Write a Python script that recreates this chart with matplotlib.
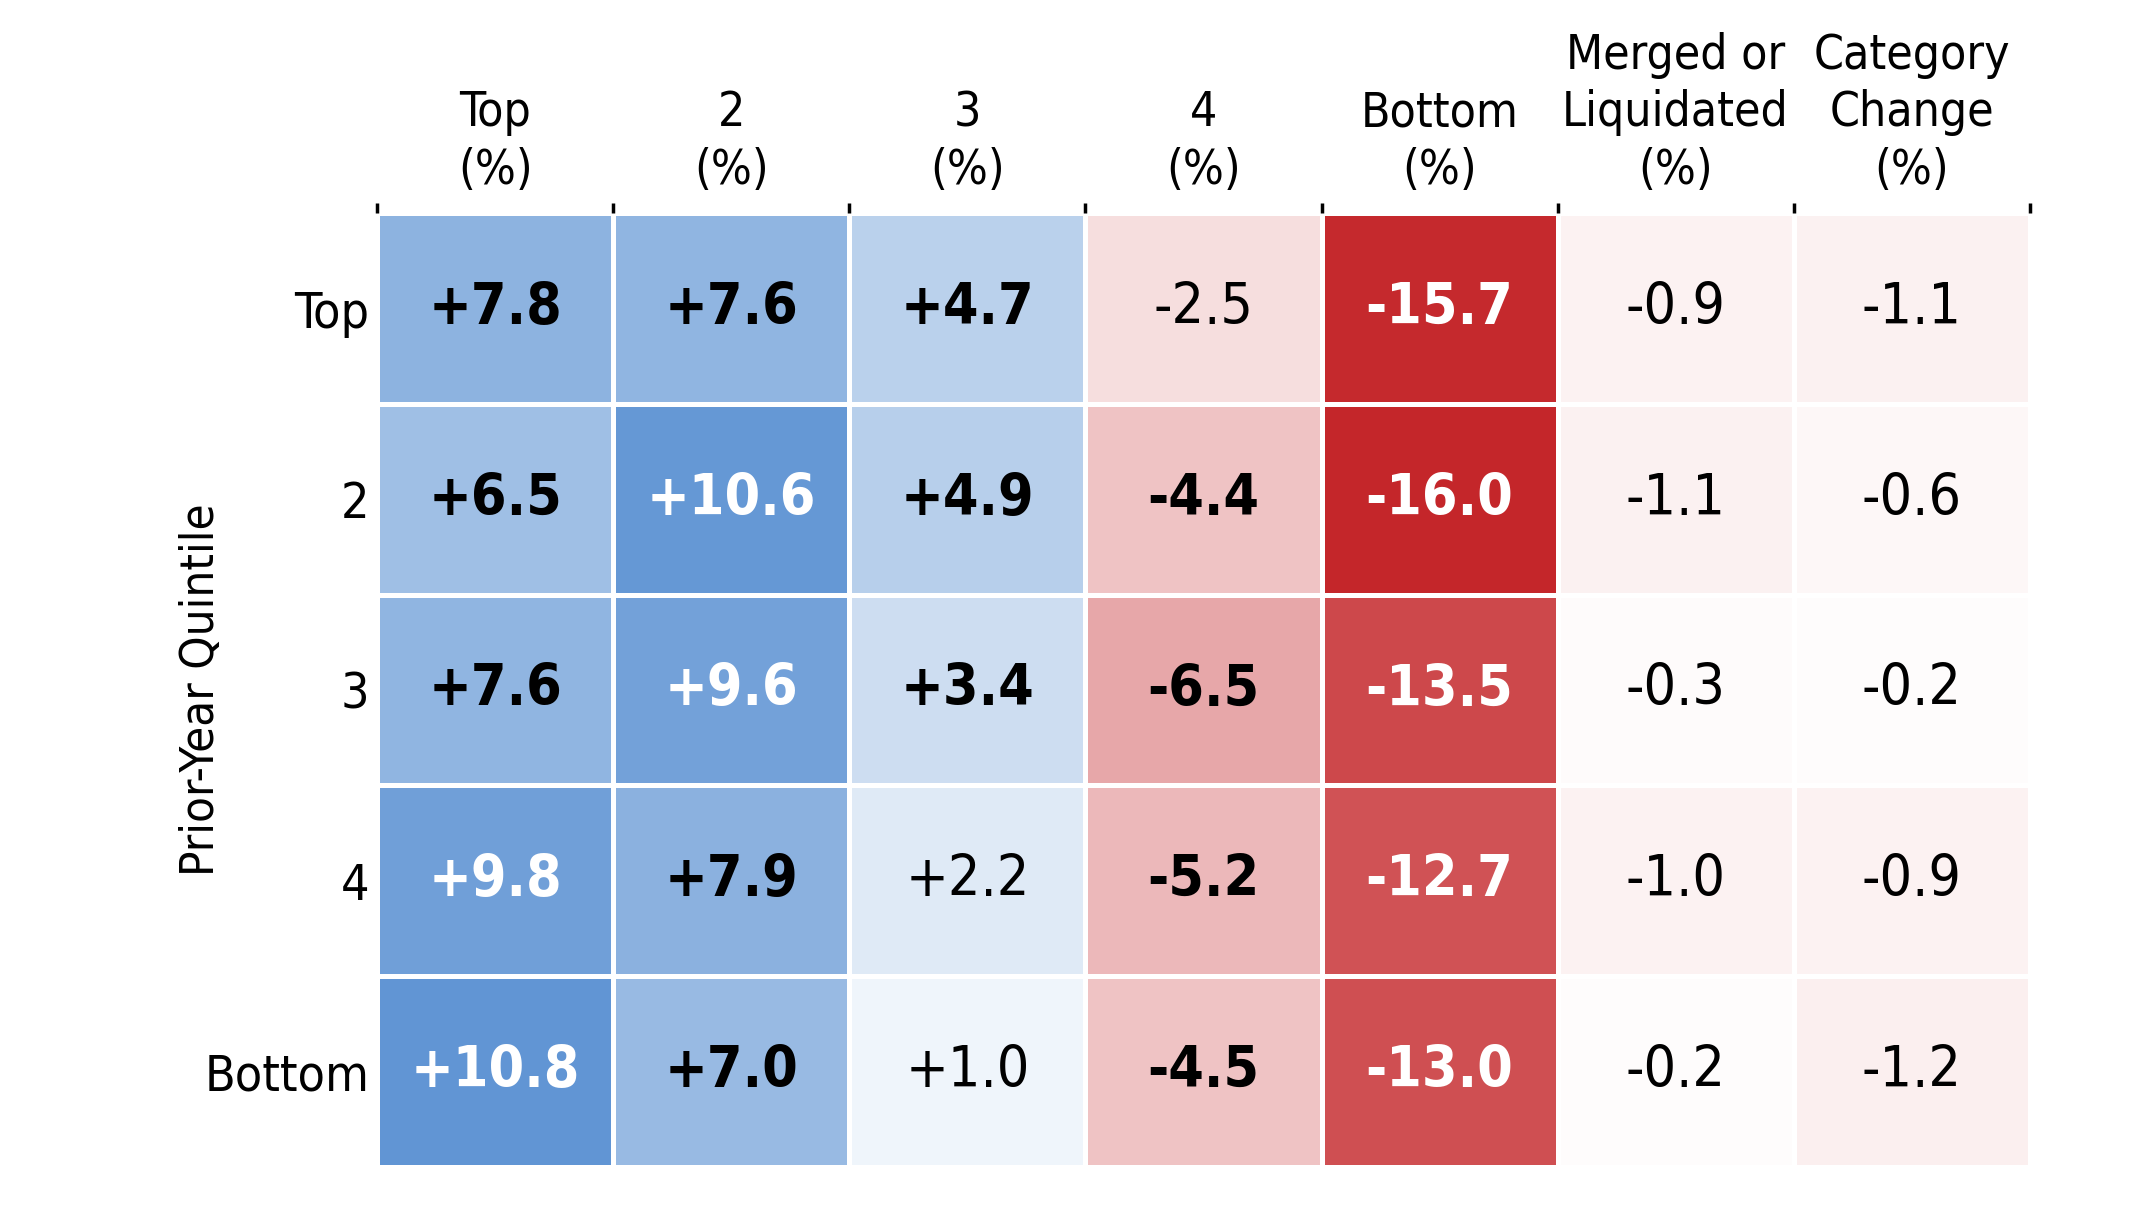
import numpy as np
import matplotlib
matplotlib.use("Agg")
import matplotlib.pyplot as plt
from matplotlib.colors import LinearSegmentedColormap, Normalize

plt.rcParams['font.family'] = ['DejaVu Sans']
plt.rcParams['font.stretch'] = 'condensed'

# columns = current-year quintile (plus attrition), rows = prior-year quintile
col_labels = ["Top\n(%)", "2\n(%)", "3\n(%)", "4\n(%)", "Bottom\n(%)",
              "Merged or\nLiquidated\n(%)", "Category\nChange\n(%)"]
row_labels = ["Top", "2", "3", "4", "Bottom"]

row_top = [7.8, 7.6, 4.7, -2.5, -15.7, -0.9, -1.1]
row_2 = [6.5, 10.6, 4.9, -4.4, -16.0, -1.1, -0.6]
row_3 = [7.6, 9.6, 3.4, -6.5, -13.5, -0.3, -0.2]
row_4 = [9.8, 7.9, 2.2, -5.2, -12.7, -1.0, -0.9]
row_bottom = [10.8, 7.0, 1.0, -4.5, -13.0, -0.2, -1.2]

vals = np.array([row_top, row_2, row_3, row_4, row_bottom])
n_rows, n_cols = vals.shape

cmap = LinearSegmentedColormap.from_list("rb", ["#c4262a", "#ffffff", "#1663bf"])
norm = Normalize(vmin=-16, vmax=16)

fig = plt.figure(figsize=(21.32, 12.18), dpi=100)
ax = fig.add_axes([0.177, 0.042, 0.775, 0.783])

ax.pcolormesh(np.arange(n_cols + 1), np.arange(n_rows + 1), vals,
              cmap=cmap, norm=norm, edgecolors="white", linewidth=2.5)
ax.set_xlim(0, n_cols)
ax.set_ylim(n_rows, 0)

for i in range(n_rows):
    for j in range(n_cols):
        v = vals[i, j]
        txt = f"{v:+.1f}"
        quint = j < 5
        bold = quint and abs(v) >= 3
        color = "white" if abs(v) >= 9 else "black"
        ax.text(j + 0.5, i + 0.5, txt, ha="center", va="center",
                fontsize=41, color=color,
                fontweight="bold" if bold else "normal")

for s in ax.spines.values():
    s.set_visible(False)

ax.xaxis.tick_top()
ax.set_xticks(np.arange(n_cols) + 0.5)
ax.set_xticklabels(col_labels, fontsize=34.5, linespacing=1.28)
ax.set_xticks(np.arange(n_cols + 1), minor=True)
ax.tick_params(axis="x", which="major", length=0, pad=14)
ax.tick_params(axis="x", which="minor", top=True, direction="out",
               length=7, width=2.5, color="black", pad=0)

ax.set_yticks(np.arange(n_rows) + 0.5)
ax.set_yticklabels(row_labels, fontsize=36)
ax.tick_params(axis="y", length=0, pad=6)
ax.set_ylabel("Prior-Year Quintile", fontsize=34)
ax.yaxis.set_label_coords(-0.093, 0.5)

fig.savefig("out.png", dpi=100)
